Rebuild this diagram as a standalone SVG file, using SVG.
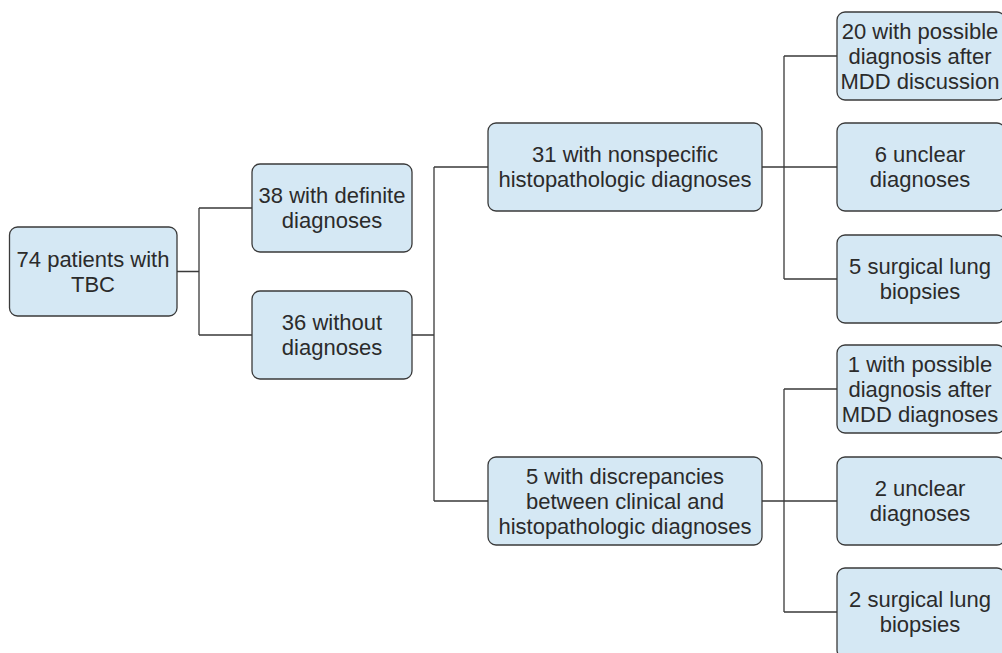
<svg xmlns="http://www.w3.org/2000/svg" width="1002" height="653" viewBox="0 0 1002 653">
<style>
.box{fill:#d5e8f4;stroke:#3a3a3a;stroke-width:1.3}
.t{font-family:"Liberation Sans",Arial,sans-serif;font-size:22px;fill:#2b2b2b;text-anchor:middle}
.c{fill:none;stroke:#3a3a3a;stroke-width:1.3}
</style>
<rect width="1002" height="653" fill="#ffffff"/>
<g id="connectors">
<path class="c" d="M177,271.5H199M199,208V335M199,208H252M199,335H252"/>
<path class="c" d="M412,335H434M434,167V501M434,167H488M434,501H488"/>
<path class="c" d="M762,167H837M784,56V279M784,56H837M784,279H837"/>
<path class="c" d="M762,501H837M784,389V612M784,389H837M784,612H837"/>
</g>
<g id="n74"><rect class="box" x="9.5" y="227" width="167.5" height="89" rx="8"/>
<text class="t" x="93" y="266.5">74 patients with</text><text class="t" x="93" y="291.5">TBC</text></g>
<g id="n38"><rect class="box" x="252" y="164" width="160" height="88" rx="8"/>
<text class="t" x="332" y="203">38 with definite</text><text class="t" x="332" y="228">diagnoses</text></g>
<g id="n36"><rect class="box" x="252" y="291" width="160" height="88" rx="8"/>
<text class="t" x="332" y="330">36 without</text><text class="t" x="332" y="355">diagnoses</text></g>
<g id="n31"><rect class="box" x="488" y="123" width="274" height="88" rx="8"/>
<text class="t" x="625" y="162">31 with nonspecific</text><text class="t" x="625" y="187">histopathologic diagnoses</text></g>
<g id="n5"><rect class="box" x="488" y="457" width="274" height="88" rx="8"/>
<text class="t" x="625" y="483.5">5 with discrepancies</text><text class="t" x="625" y="508.5">between clinical and</text><text class="t" x="625" y="533.5">histopathologic diagnoses</text></g>
<g id="r1"><rect class="box" x="837" y="12" width="168" height="88" rx="8"/>
<text class="t" x="920" y="38.5">20 with possible</text><text class="t" x="920" y="63.5">diagnosis after</text><text class="t" x="920" y="88.5">MDD discussion</text></g>
<g id="r2"><rect class="box" x="837" y="123" width="168" height="88" rx="8"/>
<text class="t" x="920" y="162">6 unclear</text><text class="t" x="920" y="187">diagnoses</text></g>
<g id="r3"><rect class="box" x="837" y="235" width="168" height="88" rx="8"/>
<text class="t" x="920" y="274">5 surgical lung</text><text class="t" x="920" y="299">biopsies</text></g>
<g id="r4"><rect class="box" x="837" y="345" width="168" height="88" rx="8"/>
<text class="t" x="920" y="371.5">1 with possible</text><text class="t" x="920" y="396.5">diagnosis after</text><text class="t" x="920" y="421.5">MDD diagnoses</text></g>
<g id="r5"><rect class="box" x="837" y="457" width="168" height="88" rx="8"/>
<text class="t" x="920" y="496">2 unclear</text><text class="t" x="920" y="521">diagnoses</text></g>
<g id="r6"><rect class="box" x="837" y="568" width="168" height="90" rx="8"/>
<text class="t" x="920" y="607">2 surgical lung</text><text class="t" x="920" y="632">biopsies</text></g>
</svg>
